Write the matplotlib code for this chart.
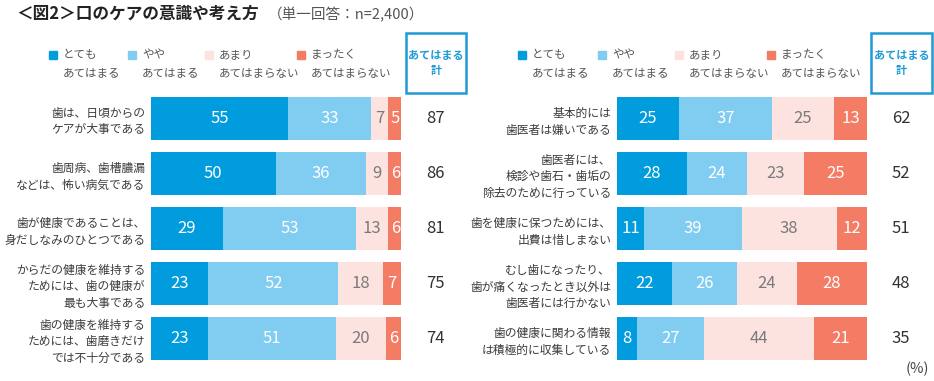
import matplotlib
matplotlib.use("Agg")
import matplotlib.pyplot as plt
from matplotlib.patches import Rectangle
import numpy as np

plt.rcParams['font.family'] = ['Noto Sans CJK JP', 'DejaVu Sans']

series_names = ["とても\nあてはまる", "やや\nあてはまる", "あまり\nあてはまらない", "まったく\nあてはまらない"]
colors = ["#009CDE", "#80CDF1", "#FCE3E0", "#F47B64"]
text_colors = ["white", "white", "#7a7a7a", "white"]

left_labels = ["歯は、日頃からの\nケアが大事である",
               "歯周病、歯槽膿漏\nなどは、怖い病気である",
               "歯が健康であることは、\n身だしなみのひとつである",
               "からだの健康を維持する\nためには、歯の健康が\n最も大事である",
               "歯の健康を維持する\nためには、歯磨きだけ\nでは不十分である"]
left_very = [55, 50, 29, 23, 23]
left_some = [33, 36, 53, 52, 51]
left_notmuch = [7, 9, 13, 18, 20]
left_notatall = [5, 6, 6, 7, 6]
left_total = [87, 86, 81, 75, 74]

right_labels = ["基本的には\n歯医者は嫌いである",
                "歯医者には、\n検診や歯石・歯垢の\n除去のために行っている",
                "歯を健康に保つためには、\n出費は惜しまない",
                "むし歯になったり、\n歯が痛くなったとき以外は\n歯医者には行かない",
                "歯の健康に関わる情報\nは積極的に収集している"]
right_very = [25, 28, 11, 22, 8]
right_some = [37, 24, 39, 26, 27]
right_notmuch = [25, 23, 38, 24, 44]
right_notatall = [13, 25, 12, 28, 21]
right_total = [62, 52, 51, 48, 35]

W, H = 934, 381
fig = plt.figure(figsize=(W / 100, H / 100), dpi=100)

def fx(x):
    return x / W

def fy(y):
    return 1 - y / H

label_color = "#3c3c3c"

def draw_panel(x0, x1, labels, very, some, notmuch, notatall, total):
    top, bottom = 91, 366
    ax = fig.add_axes([fx(x0), fy(bottom), (x1 - x0) / W, (bottom - top) / H])
    data = [very, some, notmuch, notatall]
    n = len(labels)
    y = np.arange(n)
    left = np.zeros(n)
    for vals, c, tc in zip(data, colors, text_colors):
        vals = np.array(vals, dtype=float)
        ax.barh(y, vals, left=left, height=0.78, color=c, edgecolor='none')
        for yi, (l, v) in enumerate(zip(left, vals)):
            ax.text(l + v / 2, yi, f"{int(v)}", ha='center', va='center',
                    color=tc, fontsize=12)
        left = left + vals
    for yi, t in enumerate(total):
        ax.text(113.8, yi, f"{t}", ha='center', va='center', color="#333333",
                fontsize=12, clip_on=False)
    ax.set_xlim(0, 100)
    ax.set_ylim(n - 0.5, -0.5)
    ax.set_yticks(y)
    ax.set_yticklabels(labels, fontsize=8.5, color=label_color)
    for lab in ax.get_yticklabels():
        lab.set_linespacing(1.35)
    ax.tick_params(axis='y', length=0, pad=4)
    ax.set_xticks([])
    for s in ax.spines.values():
        s.set_visible(False)
    ax.patch.set_alpha(0)
    return ax

draw_panel(150.7, 401, left_labels, left_very, left_some, left_notmuch, left_notatall, left_total)
draw_panel(616.7, 866.7, right_labels, right_very, right_some, right_notmuch, right_notatall, right_total)

# Legends
def draw_legend(xs):
    for xsq, name, c in zip(xs, series_names, colors):
        fig.patches.append(Rectangle((fx(xsq - 4), fy(59)), 8 / W, 8 / H,
                                     transform=fig.transFigure, color=c))
        l1, l2 = name.split("\n")
        fig.text(fx(xsq + 10), fy(55), l1, ha='left', va='center', fontsize=8.3, color="#555555")
        fig.text(fx(xsq + 10), fy(73), l2, ha='left', va='center', fontsize=8.3, color="#555555")

draw_legend([53, 132, 209, 301])
draw_legend([522, 602, 679, 771])

# total boxes
for bx0, bx1 in [(406, 466), (871, 932)]:
    fig.patches.append(Rectangle((fx(bx0), fy(93)), (bx1 - bx0) / W, (93 - 33) / H,
                                 transform=fig.transFigure, fill=False,
                                 edgecolor="#1E9BD7", linewidth=1.8))
    fig.text(fx((bx0 + bx1) / 2), fy(63), "あてはまる\n計", ha='center', va='center',
             fontsize=8, color="#1E9BD7", fontweight='bold', linespacing=1.2)

# Title
fig.text(fx(16), fy(14), "＜図2＞口のケアの意識や考え方", ha='left', va='center',
         fontsize=12, fontweight='bold', color="#222222")
fig.text(fx(268), fy(15), "（単一回答：n=2,400）", ha='left', va='center',
         fontsize=10.5, color="#555555")

fig.text(fx(917), fy(369), "(%)", ha='center', va='center', fontsize=10.5, color="#444444")

fig.savefig("out.png", dpi=100)
